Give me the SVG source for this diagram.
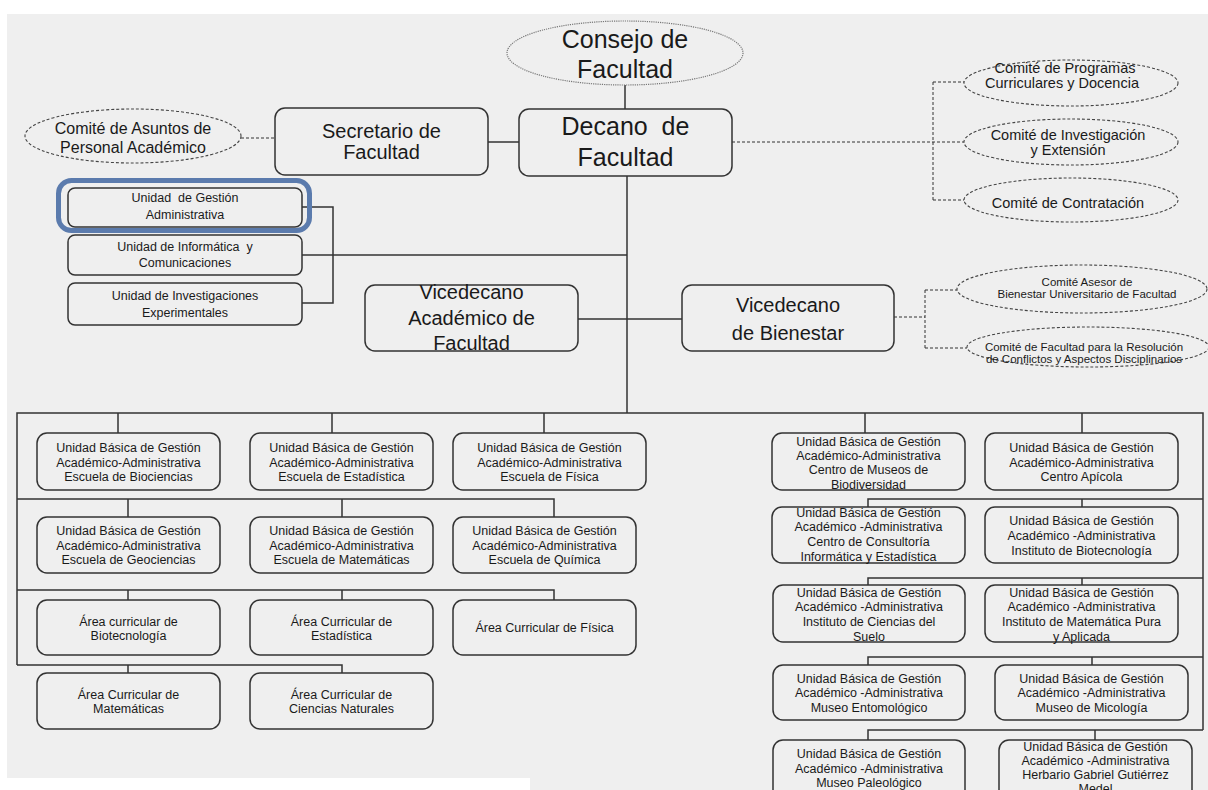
<svg xmlns="http://www.w3.org/2000/svg" width="1208" height="790" viewBox="0 0 1208 790">
  <style>
    .box{fill:none;stroke:#333;stroke-width:1.5}
    .hl{fill:none;stroke:#5b7bad;stroke-width:5}
    .ell{fill:none;stroke:#444;stroke-width:1.1;stroke-dasharray:3 2}
    .dot{fill:none;stroke:#777;stroke-width:1.2;stroke-dasharray:1.2 1}
    .ln{fill:none;stroke:#333;stroke-width:1.5}
    .dash{fill:none;stroke:#333;stroke-width:1;stroke-dasharray:3 2}
    text{font-family:"Liberation Sans",Arial,sans-serif;fill:#1a1a1a;text-anchor:middle;dominant-baseline:central}
    .t25{font-size:25px}
    .t20{font-size:20px}
    .t16{font-size:16px}
    .t14{font-size:14.5px}
    .t12{font-size:12.5px}
    .t11{font-size:11.5px}
  </style>

  <!-- page background -->
  <rect x="0" y="0" width="1208" height="790" fill="#ffffff"/>
  <rect x="7" y="14" width="1201" height="776" fill="#efefef"/>
  <rect x="0" y="778" width="530" height="12" fill="#ffffff"/>

  <!-- connectors -->
  <g id="connectors">
    <path class="ln" d="M625,85 V109"/>
    <path class="ln" d="M488,142 H519"/>
    <path class="ln" d="M627,176 V413"/>
    <path class="ln" d="M302,207 H333 V303 H302"/>
    <path class="ln" d="M302,255 H627"/>
    <path class="ln" d="M578,319 H682"/>
    <path class="ln" d="M17,665 V413 H1203 V730"/>
    <!-- left block -->
    <path class="ln" d="M118,413 V433 M332,413 V433 M544,413 V433"/>
    <path class="ln" d="M17,499 H554 V517 M128,499 V517 M342,499 V517"/>
    <path class="ln" d="M17,590 H554 V600 M128,590 V600 M342,590 V600"/>
    <path class="ln" d="M17,665 H342 V673 M128,665 V673"/>
    <!-- right block -->
    <path class="ln" d="M865,413 V433 M1082,413 V433"/>
    <path class="ln" d="M1203,499 H868 V507 M1082,499 V507"/>
    <path class="ln" d="M1203,578 H868 V585 M1082,578 V585"/>
    <path class="ln" d="M1203,657 H868 V665 M1092,657 V665"/>
    <path class="ln" d="M1203,730 H868 V740 M1095,730 V740"/>
    <!-- committee links -->
    <path class="dash" d="M241,138 H275"/>
    <path class="dash" d="M732,142 H964 M933,82 V201 M933,82 H964 M933,200 H964"/>
    <path class="dash" d="M894,317 H925 M925,290 V348 M925,290 H957 M925,348 H967"/>
  </g>

  <!-- top level -->
  <g id="consejo">
    <ellipse class="dot" cx="625" cy="53" rx="118" ry="32"/>
    <text class="t25" x="625" y="39">Consejo de</text>
    <text class="t25" x="625" y="69">Facultad</text>
  </g>
  <g id="decano">
    <rect class="box" x="519" y="109" width="213" height="67" rx="10"/>
    <text class="t25" x="625.5" y="126" xml:space="preserve">Decano  de</text>
    <text class="t25" x="625.5" y="157">Facultad</text>
  </g>
  <g id="secretario">
    <rect class="box" x="275" y="108" width="213" height="67" rx="10"/>
    <text class="t20" x="381.5" y="131">Secretario de</text>
    <text class="t20" x="381.5" y="152">Facultad</text>
  </g>
  <g id="comite-asuntos">
    <ellipse class="ell" cx="133" cy="136" rx="108" ry="27"/>
    <text class="t16" x="133" y="128">Comité de Asuntos de</text>
    <text class="t16" x="133" y="147">Personal Académico</text>
  </g>
  <g id="comite-programas">
    <ellipse class="ell" cx="1071" cy="83" rx="107" ry="23"/>
    <text class="t14" x="1065" y="67.5">Comité de Programas</text>
    <text class="t14" x="1062" y="82.5">Curriculares y Docencia</text>
  </g>
  <g id="comite-investigacion">
    <ellipse class="ell" cx="1071" cy="142" rx="107" ry="23"/>
    <text class="t14" x="1068" y="135">Comité de Investigación</text>
    <text class="t14" x="1068" y="150">y Extensión</text>
  </g>
  <g id="comite-contratacion">
    <ellipse class="ell" cx="1071" cy="200" rx="107" ry="22"/>
    <text class="t14" x="1068" y="203">Comité de Contratación</text>
  </g>

  <!-- staff units -->
  <g id="unidad-gestion">
    <rect class="hl" x="58.5" y="180.5" width="251" height="50" rx="13"/>
    <rect class="box" x="68" y="188" width="234" height="39" rx="7"/>
    <text class="t12" x="185" y="198" xml:space="preserve">Unidad  de Gestión</text>
    <text class="t12" x="185" y="215">Administrativa</text>
  </g>
  <g id="unidad-informatica">
    <rect class="box" x="68" y="235" width="234" height="40" rx="7"/>
    <text class="t12" x="185" y="247" xml:space="preserve">Unidad de Informática  y</text>
    <text class="t12" x="185" y="263">Comunicaciones</text>
  </g>
  <g id="unidad-investigaciones">
    <rect class="box" x="68" y="283" width="234" height="42" rx="7"/>
    <text class="t12" x="185" y="296">Unidad de Investigaciones</text>
    <text class="t12" x="185" y="313">Experimentales</text>
  </g>

  <!-- vice-deans -->
  <g id="vicedecano-academico">
    <rect class="box" x="365" y="285" width="213" height="66" rx="10"/>
    <text class="t20" x="471.5" y="292">Vicedecano</text>
    <text class="t20" x="471.5" y="318">Académico de</text>
    <text class="t20" x="471.5" y="343">Facultad</text>
  </g>
  <g id="vicedecano-bienestar">
    <rect class="box" x="682" y="285" width="212" height="66" rx="10"/>
    <text class="t20" x="788" y="305">Vicedecano</text>
    <text class="t20" x="788" y="333">de Bienestar</text>
  </g>
  <g id="comite-asesor">
    <ellipse class="ell" cx="1082" cy="289" rx="125" ry="24"/>
    <text class="t11" x="1087" y="282">Comité Asesor de</text>
    <text class="t11" x="1087" y="294">Bienestar Universitario de Facultad</text>
  </g>
  <g id="comite-resolucion">
    <ellipse class="ell" cx="1088" cy="347" rx="121" ry="20"/>
    <text class="t11" x="1084" y="347">Comité de Facultad para la Resolución</text>
    <text class="t11" x="1084" y="359">de Conflictos y Aspectos Disciplinarios</text>
  </g>

  <!-- schools and curricular areas -->
  <g id="escuela-biociencias">
    <rect class="box" x="37" y="433" width="183" height="57" rx="10"/>
    <text class="t12" x="128.5" y="448">Unidad Básica de Gestión</text>
    <text class="t12" x="128.5" y="463">Académico-Administrativa</text>
    <text class="t12" x="128.5" y="477">Escuela de Biociencias</text>
  </g>
  <g id="escuela-estadistica">
    <rect class="box" x="250" y="433" width="183" height="57" rx="10"/>
    <text class="t12" x="341.5" y="448">Unidad Básica de Gestión</text>
    <text class="t12" x="341.5" y="463">Académico-Administrativa</text>
    <text class="t12" x="341.5" y="477">Escuela de Estadística</text>
  </g>
  <g id="escuela-fisica">
    <rect class="box" x="453" y="433" width="193" height="57" rx="10"/>
    <text class="t12" x="549.5" y="448">Unidad Básica de Gestión</text>
    <text class="t12" x="549.5" y="463">Académico-Administrativa</text>
    <text class="t12" x="549.5" y="477">Escuela de Física</text>
  </g>
  <g id="escuela-geociencias">
    <rect class="box" x="37" y="517" width="183" height="56" rx="10"/>
    <text class="t12" x="128.5" y="531">Unidad Básica de Gestión</text>
    <text class="t12" x="128.5" y="546">Académico-Administrativa</text>
    <text class="t12" x="128.5" y="560">Escuela de Geociencias</text>
  </g>
  <g id="escuela-matematicas">
    <rect class="box" x="250" y="517" width="183" height="56" rx="10"/>
    <text class="t12" x="341.5" y="531">Unidad Básica de Gestión</text>
    <text class="t12" x="341.5" y="546">Académico-Administrativa</text>
    <text class="t12" x="341.5" y="560">Escuela de Matemáticas</text>
  </g>
  <g id="escuela-quimica">
    <rect class="box" x="453" y="517" width="183" height="56" rx="10"/>
    <text class="t12" x="544.5" y="531">Unidad Básica de Gestión</text>
    <text class="t12" x="544.5" y="546">Académico-Administrativa</text>
    <text class="t12" x="544.5" y="560">Escuela de Química</text>
  </g>
  <g id="area-biotecnologia">
    <rect class="box" x="37" y="600" width="183" height="55" rx="10"/>
    <text class="t12" x="128.5" y="622">Área curricular de</text>
    <text class="t12" x="128.5" y="636">Biotecnología</text>
  </g>
  <g id="area-estadistica">
    <rect class="box" x="250" y="600" width="183" height="55" rx="10"/>
    <text class="t12" x="341.5" y="622">Área Curricular de</text>
    <text class="t12" x="341.5" y="636">Estadística</text>
  </g>
  <g id="area-fisica">
    <rect class="box" x="453" y="600" width="183" height="55" rx="10"/>
    <text class="t12" x="544.5" y="628">Área Curricular de Física</text>
  </g>
  <g id="area-matematicas">
    <rect class="box" x="37" y="673" width="183" height="56" rx="10"/>
    <text class="t12" x="128.5" y="695">Área Curricular de</text>
    <text class="t12" x="128.5" y="709">Matemáticas</text>
  </g>
  <g id="area-ciencias-naturales">
    <rect class="box" x="250" y="673" width="183" height="56" rx="10"/>
    <text class="t12" x="341.5" y="695">Área Curricular de</text>
    <text class="t12" x="341.5" y="709">Ciencias Naturales</text>
  </g>

  <!-- centres, institutes and museums -->
  <g id="centro-museos">
    <rect class="box" x="772" y="433" width="193" height="57" rx="10"/>
    <text class="t12" x="868.5" y="442">Unidad Básica de Gestión</text>
    <text class="t12" x="868.5" y="456">Académico-Administrativa</text>
    <text class="t12" x="868.5" y="470">Centro de Museos de</text>
    <text class="t12" x="868.5" y="485">Biodiversidad</text>
  </g>
  <g id="centro-apicola">
    <rect class="box" x="985" y="433" width="193" height="57" rx="10"/>
    <text class="t12" x="1081.5" y="448">Unidad Básica de Gestión</text>
    <text class="t12" x="1081.5" y="463">Académico-Administrativa</text>
    <text class="t12" x="1081.5" y="477">Centro Apícola</text>
  </g>
  <g id="centro-consultoria">
    <rect class="box" x="772" y="507" width="193" height="56" rx="10"/>
    <text class="t12" x="868.5" y="513">Unidad Básica de Gestión</text>
    <text class="t12" x="868.5" y="527">Académico -Administrativa</text>
    <text class="t12" x="868.5" y="542">Centro de Consultoría</text>
    <text class="t12" x="868.5" y="557">Informática y Estadística</text>
  </g>
  <g id="instituto-biotecnologia">
    <rect class="box" x="985" y="507" width="193" height="56" rx="10"/>
    <text class="t12" x="1081.5" y="521">Unidad Básica de Gestión</text>
    <text class="t12" x="1081.5" y="536">Académico -Administrativa</text>
    <text class="t12" x="1081.5" y="551">Instituto de Biotecnología</text>
  </g>
  <g id="instituto-suelo">
    <rect class="box" x="773" y="585" width="192" height="57" rx="10"/>
    <text class="t12" x="869" y="593">Unidad Básica de Gestión</text>
    <text class="t12" x="869" y="607">Académico -Administrativa</text>
    <text class="t12" x="869" y="622">Instituto de Ciencias del</text>
    <text class="t12" x="869" y="637">Suelo</text>
  </g>
  <g id="instituto-matematica">
    <rect class="box" x="985" y="585" width="193" height="57" rx="10"/>
    <text class="t12" x="1081.5" y="593">Unidad Básica de Gestión</text>
    <text class="t12" x="1081.5" y="607">Académico -Administrativa</text>
    <text class="t12" x="1081.5" y="622">Instituto de Matemática Pura</text>
    <text class="t12" x="1081.5" y="637">y Aplicada</text>
  </g>
  <g id="museo-entomologico">
    <rect class="box" x="773" y="665" width="192" height="55" rx="10"/>
    <text class="t12" x="869" y="679">Unidad Básica de Gestión</text>
    <text class="t12" x="869" y="693">Académico -Administrativa</text>
    <text class="t12" x="869" y="708">Museo Entomológico</text>
  </g>
  <g id="museo-micologia">
    <rect class="box" x="995" y="665" width="193" height="55" rx="10"/>
    <text class="t12" x="1091.5" y="679">Unidad Básica de Gestión</text>
    <text class="t12" x="1091.5" y="693">Académico -Administrativa</text>
    <text class="t12" x="1091.5" y="708">Museo de Micología</text>
  </g>
  <g id="museo-paleologico">
    <rect class="box" x="773" y="740" width="192" height="60" rx="10"/>
    <text class="t12" x="869" y="754">Unidad Básica de Gestión</text>
    <text class="t12" x="869" y="769">Académico -Administrativa</text>
    <text class="t12" x="869" y="783">Museo Paleológico</text>
  </g>
  <g id="herbario">
    <rect class="box" x="999" y="740" width="193" height="60" rx="10"/>
    <text class="t12" x="1095.5" y="747">Unidad Básica de Gestión</text>
    <text class="t12" x="1095.5" y="761">Académico -Administrativa</text>
    <text class="t12" x="1095.5" y="775">Herbario Gabriel Gutiérrez</text>
    <text class="t12" x="1095.5" y="789">Medel</text>
  </g>
</svg>
